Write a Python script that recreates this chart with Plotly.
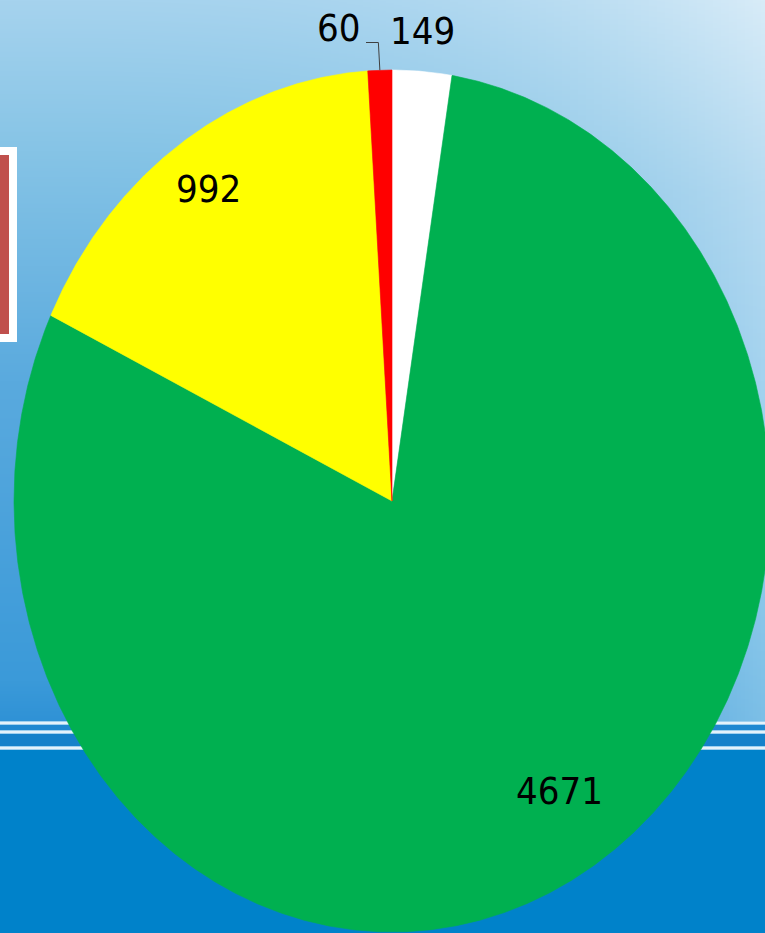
import zlib, struct, base64
import numpy as np
import plotly.graph_objects as go

# ---------------- data ----------------
slice_names = ["white", "green", "yellow", "red"]
slice_values = [149, 4671, 992, 60]
slice_colors = ["#ffffff", "#00b050", "#ffff00", "#ff0000"]

# ---------------- geometry / style ----------------
W, H = 765, 933
CX, CY, RX, RY = 392, 501, 378, 431
FONT = "Liberation Sans Narrow, Arial Narrow, DejaVu Sans Condensed, sans-serif"
label_pos = {"149": (422, 31), "4671": (559, 791), "992": (208, 189), "60": (339, 28)}

# ---------------- background image (decoration) ----------------
def hexrgb(h):
    h = h.lstrip("#")
    return np.array([int(h[i:i + 2], 16) for i in (0, 2, 4)], dtype=float)

left_stops = [(0, "#a6d3ee"), (150, "#86c4e6"), (380, "#5aaade"), (680, "#3b9ad9"), (721, "#2f92d6")]
right_stops = [(0, "#d8ecf8"), (190, "#b6dbf1"), (380, "#a4d3ef"), (650, "#84c4e9"), (721, "#7cbfe7")]

def interp(stops, y):
    for (y0, c0), (y1, c1) in zip(stops[:-1], stops[1:]):
        if y0 <= y <= y1:
            t = (y - y0) / (y1 - y0)
            return hexrgb(c0) * (1 - t) + hexrgb(c1) * t
    return hexrgb(stops[-1][1])

band_rows = {}
for y in range(721, 933):
    if y in (722, 723, 731, 732, 747, 748):
        c = hexrgb("#e4f2fb")
    elif y in (721, 724, 730, 733, 746, 749):
        c = hexrgb("#9fd0ef")
    elif 725 <= y <= 729:
        c = hexrgb("#1f88d1")
    elif 734 <= y <= 745:
        c = hexrgb("#1581ca")
    else:
        c = hexrgb("#0082ca")
    band_rows[y] = c

IMG_W = 96
raw = bytearray()
for y in range(H):
    raw.append(0)
    if y in band_rows:
        row = np.tile(band_rows[y], (IMG_W, 1))
    else:
        cl = interp(left_stops, y)
        cr = interp(right_stops, y)
        u = (np.arange(IMG_W) / (IMG_W - 1)) ** 3
        row = cl[None, :] * (1 - u[:, None]) + cr[None, :] * u[:, None]
    raw += np.clip(row, 0, 255).astype(np.uint8).tobytes()

def chunk(tag, data):
    return struct.pack(">I", len(data)) + tag + data + struct.pack(">I", zlib.crc32(tag + data) & 0xFFFFFFFF)

png = b"\x89PNG\r\n\x1a\n" + chunk(b"IHDR", struct.pack(">IIBBBBB", IMG_W, H, 8, 2, 0, 0, 0)) \
      + chunk(b"IDAT", zlib.compress(bytes(raw), 9)) + chunk(b"IEND", b"")
bg_uri = "data:image/png;base64," + base64.b64encode(png).decode()

# ---------------- figure ----------------
fig = go.Figure()
total = float(sum(slice_values))
start = 0.0
mid_angles = {}
for name, v, col in zip(slice_names, slice_values, slice_colors):
    a0 = start
    a1 = start + v / total * 2 * np.pi
    th = np.linspace(a0, a1, max(8, int((a1 - a0) * 180)))
    xs = np.concatenate([[CX], CX + RX * np.sin(th), [CX]])
    ys = np.concatenate([[CY], CY - RY * np.cos(th), [CY]])
    fig.add_trace(go.Scatter(x=xs, y=ys, mode="lines", fill="toself", fillcolor=col,
                             line=dict(color=col, width=0.6), hoverinfo="skip", showlegend=False))
    mid_angles[name] = (a0 + a1) / 2
    start = a1

# leader line for the small red slice
am = mid_angles["red"]
ex, ey = CX + RX * np.sin(am), CY - RY * np.cos(am)
lx, ly = label_pos["60"]
fig.add_trace(go.Scatter(x=[lx + 27, ex - 1.5, ex], y=[ly + 14.5, ly + 14.5, ey], mode="lines",
                         line=dict(color="#404040", width=1), hoverinfo="skip", showlegend=False))

for v in slice_values:
    t = str(v)
    x, y = label_pos[t]
    fig.add_annotation(x=x, y=y, xref="x", yref="y", text=t, showarrow=False,
                       font=dict(family=FONT, size=38, color="#000000"),
                       xanchor="center", yanchor="middle")

# partial box at the left edge
fig.add_shape(type="rect", xref="x", yref="y", x0=-10, x1=17, y0=147, y1=342,
              fillcolor="#ffffff", line=dict(width=0), layer="above")
fig.add_shape(type="rect", xref="x", yref="y", x0=-10, x1=9, y0=155, y1=334,
              fillcolor="#c0504d", line=dict(width=0), layer="above")

fig.add_layout_image(source=bg_uri, xref="paper", yref="paper", x=0, y=1, sizex=1, sizey=1,
                     xanchor="left", yanchor="top", sizing="stretch", layer="below")

fig.update_layout(
    width=W, height=H, margin=dict(l=0, r=0, t=0, b=0),
    paper_bgcolor="#0082ca", plot_bgcolor="rgba(0,0,0,0)",
    xaxis=dict(range=[0, W], visible=False, fixedrange=True),
    yaxis=dict(range=[H, 0], visible=False, fixedrange=True),
    showlegend=False,
)
fig.write_html("out.html", config={"displayModeBar": False},
               post_script="document.body.style.margin='0px';document.body.style.overflow='hidden';")
